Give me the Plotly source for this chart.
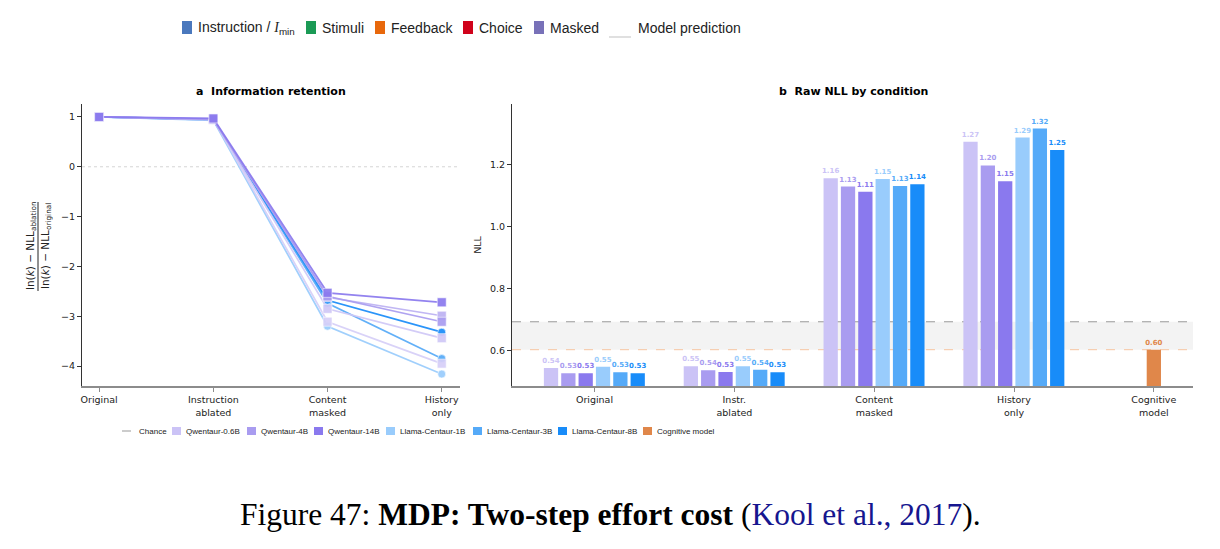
import plotly.graph_objects as go

W, H = 1220, 549
PAGE_PAD = 8  # the page body margin shifts the figure by this much

# panel a: information retention (normalised NLL)
conditions_a = ["Original", "Instruction<br>ablated", "Content<br>masked", "History<br>only"]
retention_series = ["Llama-Centaur-1B", "Llama-Centaur-3B", "Llama-Centaur-8B",
                    "Qwentaur-0.6B", "Qwentaur (a)", "Qwentaur (b)", "Qwentaur-4B", "Qwentaur-14B"]
retention_colors = ["#99ccfc", "#55aaf8", "#188cf9",
                    "#d6cff8", "#d0c8f7", "#bcb1f3", "#a99cf0", "#8a79ee"]
retention_symbols = ["circle", "circle", "circle",
                     "square", "square", "square", "square", "square"]
retention_values = [
    [1.0, 0.93, -3.20, -4.16],
    [1.0, 0.94, -2.74, -3.85],
    [1.0, 0.95, -2.68, -3.32],
    [1.0, 0.96, -3.11, -3.95],
    [1.0, 0.94, -2.85, -3.44],
    [1.0, 0.95, -2.62, -2.99],
    [1.0, 0.95, -2.60, -3.11],
    [1.0, 0.97, -2.53, -2.72],
]

# panel b: raw NLL
conditions_b = ["Original", "Instr.<br>ablated", "Content<br>masked", "History<br>only", "Cognitive<br>model"]
models = ["Qwentaur-0.6B", "Qwentaur-4B", "Qwentaur-14B",
          "Llama-Centaur-1B", "Llama-Centaur-3B", "Llama-Centaur-8B"]
model_colors = ["#cbc3f6", "#a99cf0", "#8a79ee", "#99ccfc", "#55aaf8", "#188cf9"]
nll_original = [0.544, 0.527, 0.527, 0.548, 0.530, 0.527]
nll_instr = [0.550, 0.537, 0.531, 0.550, 0.538, 0.530]
nll_content = [1.156, 1.129, 1.112, 1.153, 1.131, 1.136]
nll_history = [1.273, 1.197, 1.146, 1.287, 1.316, 1.247]
cognitive_nll = 0.603
cognitive_color = "#e0874a"
chance_nll = 0.693

# top (figure-wide) legend
top_labels = ["Instruction / <i><span style='font-family:Liberation Serif'>I</span></i><sub>min</sub>",
              "Stimuli", "Feedback", "Choice", "Masked"]
top_colors = ["#4a78bd", "#1b9a55", "#e8680c", "#d0021b", "#7871b8"]
top_x = [182, 306, 375, 463, 534]


def px(x):
    return (x - PAGE_PAD) / W


def py(y):
    return 1 - (y - PAGE_PAD) / H


def note(text, x, y, size, family="DejaVu Sans", xanchor="center", **kw):
    return dict(text=text, x=px(x), y=py(y), xref="paper", yref="paper", showarrow=False,
                xanchor=xanchor, yanchor="middle",
                font=dict(size=size, family=family, color=kw.pop("color", "#222")), **kw)


fig = go.Figure()

for name, col, sym, vals in zip(retention_series, retention_colors, retention_symbols, retention_values):
    fig.add_trace(go.Scatter(
        x=list(range(len(conditions_a))), y=vals, mode="lines+markers",
        line=dict(color=col, width=1.7),
        marker=dict(symbol=sym, size=9 if sym == "square" else 8, color=col,
                    line=dict(color="white", width=0.6)),
        opacity=0.92, showlegend=False, name=name, xaxis="x", yaxis="y"))

bar_w = 0.102
step = 0.124
for i, (m, col) in enumerate(zip(models, model_colors)):
    vals = [nll_original[i], nll_instr[i], nll_content[i], nll_history[i]]
    fig.add_trace(go.Bar(
        x=[0, 1, 2, 3], y=vals, width=bar_w, offset=-0.362 + i * step,
        marker=dict(color=col, line=dict(width=0)),
        text=[f"{v:.2f}" for v in vals], textposition="outside",
        textfont=dict(size=7, color=col, family="DejaVu Sans", weight="bold"),
        constraintext="none", cliponaxis=False,
        showlegend=False, name=m, xaxis="x2", yaxis="y2"))

fig.add_trace(go.Bar(
    x=[4], y=[cognitive_nll], width=bar_w, offset=-bar_w / 2,
    marker=dict(color=cognitive_color, line=dict(width=0)),
    text=[f"{cognitive_nll:.2f}"], textposition="outside",
    textfont=dict(size=7, color=cognitive_color, family="DejaVu Sans", weight="bold"),
    constraintext="none", cliponaxis=False,
    showlegend=False, name="Cognitive model", xaxis="x2", yaxis="y2"))

shapes = [
    dict(type="line", xref="x domain", yref="y", x0=0, x1=1, y0=0, y1=0,
         line=dict(color="#cccccc", width=0.8, dash="dot"), layer="below"),
    dict(type="rect", xref="x2 domain", yref="y2", x0=0, x1=1, y0=cognitive_nll, y1=chance_nll,
         fillcolor="#f3f3f3", line=dict(width=0), layer="below"),
    dict(type="line", xref="x2 domain", yref="y2", x0=0, x1=1, y0=chance_nll, y1=chance_nll,
         line=dict(color="#999999", width=1, dash="dash"), layer="below"),
    dict(type="line", xref="x2 domain", yref="y2", x0=0, x1=1, y0=cognitive_nll, y1=cognitive_nll,
         line=dict(color="#f6c4a0", width=1, dash="dash"), layer="below"),
    # fraction bar of the panel a y label
    dict(type="line", xref="paper", yref="paper", x0=px(38), x1=px(38), y0=py(202), y1=py(291),
         line=dict(color="#222", width=1)),
]

annotations = [
    note("<b>a  Information retention</b>", 271, 92, 11, color="black"),
    note("<b>b  Raw NLL by condition</b>", 853, 92, 11, color="black"),
    note("ln(<i>k</i>) − NLL<sub>ablation</sub>", 31, 246, 10.5, textangle=-90),
    note("ln(<i>k</i>) − NLL<sub>original</sub>", 46, 246, 10.5, textangle=-90),
    note("Figure 47: <b>MDP: Two-step effort cost</b> (<span style='color:#16168f'>Kool et al., 2017</span>).",
         610, 514, 31.5, family="Liberation Serif", color="black"),
]

# top legend
top_size = 14
for lab, col, x0 in zip(top_labels, top_colors, top_x):
    shapes.append(dict(type="rect", xref="paper", yref="paper", x0=px(x0), x1=px(x0 + 10),
                       y0=py(34), y1=py(21), fillcolor=col, line=dict(width=0)))
    annotations.append(note(lab, x0 + 14, 28, top_size, family="Liberation Sans", xanchor="left"))
shapes.append(dict(type="line", xref="paper", yref="paper", x0=px(609), x1=px(631), y0=py(37), y1=py(37),
                   line=dict(color="#cccccc", width=1.2)))
annotations.append(note("Model prediction", 636, 28, top_size, family="Liberation Sans", xanchor="left"))

# bottom legend
leg_y = 431
leg_size = 8
shapes.append(dict(type="line", xref="paper", yref="paper", x0=px(122), x1=px(134), y0=py(leg_y), y1=py(leg_y),
                   line=dict(color="#999999", width=1, dash="dash")))
annotations.append(note("Chance", 137, leg_y, leg_size, family="Liberation Sans", xanchor="left"))
leg_x = [172, 247, 314, 386, 473, 558, 643]
for lab, col, x0 in zip(models + ["Cognitive model"], model_colors + [cognitive_color], leg_x):
    shapes.append(dict(type="rect", xref="paper", yref="paper", x0=px(x0), x1=px(x0 + 9),
                       y0=py(leg_y + 4), y1=py(leg_y - 4), fillcolor=col, line=dict(width=0)))
    annotations.append(note(lab, x0 + 12, leg_y, leg_size, family="Liberation Sans", xanchor="left"))

axis_font = dict(size=9.5, family="DejaVu Sans", color="#222")
common = dict(showgrid=False, zeroline=False, automargin=False, ticks="outside", ticklen=4,
              tickfont=axis_font, showline=True)
fig.update_layout(
    width=W, height=H, margin=dict(l=0, r=0, t=0, b=0, autoexpand=False),
    paper_bgcolor="white", plot_bgcolor="white",
    barmode="overlay", showlegend=False,
    shapes=shapes, annotations=annotations,
    xaxis=dict(domain=[px(82), px(460)], range=[-0.15, 3.16], tickmode="array",
               tickvals=list(range(len(conditions_a))), ticktext=conditions_a,
               linecolor="#8c8c8c", linewidth=2, tickcolor="#8c8c8c", anchor="y", **common),
    yaxis=dict(domain=[py(386), py(104)], range=[-4.4, 1.26], tickvals=[-4, -3, -2, -1, 0, 1],
               linecolor="#333", linewidth=1.2, tickcolor="#333", anchor="x", **common),
    xaxis2=dict(domain=[px(512), px(1193)], range=[-0.59, 4.28], tickmode="array",
                tickvals=list(range(len(conditions_b))), ticktext=conditions_b,
                linecolor="#8c8c8c", linewidth=2, tickcolor="#8c8c8c", anchor="y2", **common),
    yaxis2=dict(domain=[py(386), py(104)], range=[0.486, 1.395], tickvals=[0.6, 0.8, 1.0, 1.2],
                tickformat=".1f", title=dict(text="NLL", font=axis_font, standoff=6),
                linecolor="#333", linewidth=1.2, tickcolor="#333", anchor="x2", **common),
)

fig.write_html("out.html")
